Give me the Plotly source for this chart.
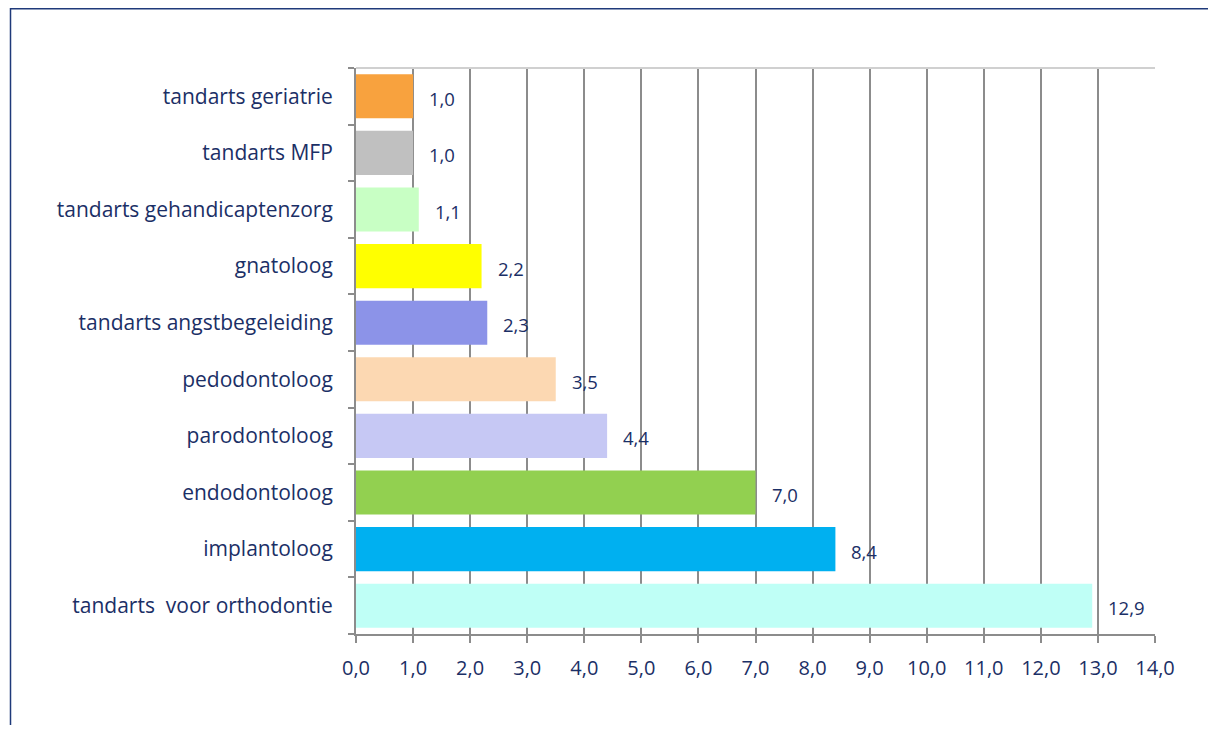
import plotly.graph_objects as go

categories = [
    "tandarts  voor orthodontie",
    "implantoloog",
    "endodontoloog",
    "parodontoloog",
    "pedodontoloog",
    "tandarts angstbegeleiding",
    "gnatoloog",
    "tandarts gehandicaptenzorg",
    "tandarts MFP",
    "tandarts geriatrie",
]
values = [12.9, 8.4, 7.0, 4.4, 3.5, 2.3, 2.2, 1.1, 1.0, 1.0]
colors = ["#BFFFF6", "#00B0F0", "#92D050", "#C6C8F4", "#FCD8B2",
          "#8C93E8", "#FFFF00", "#C8FFC4", "#C0C0C0", "#F8A23E"]
x_ticks = list(range(0, 15))
x_tick_labels = [f"{v},0" for v in x_ticks]

NAVY = "#1B2F66"
FONT = "Open Sans"

def fmt(v):
    return f"{v:.1f}".replace(".", ",")

# page body has an 8px margin; figure sized to fit the 1216x733 window
W, H = 1200, 717
L, T = 348, 60
PW, PH = 799, 566
R, B = W - L - PW, H - T - PH

fig = go.Figure(go.Bar(
    y=categories, x=values, orientation="h",
    marker=dict(color=colors, line=dict(width=0)),
    width=0.78,
    hoverinfo="skip",
))

for c, v in zip(categories, values):
    fig.add_annotation(x=v, y=c, text=fmt(v), showarrow=False,
                       xanchor="left", xshift=14, yshift=-2,
                       font=dict(family=FONT, size=18.5, color=NAVY))

def px(xpix):
    return (xpix - L) / PW

def py(ypix):
    return (T + PH - ypix) / PH

fig.update_layout(
    width=W, height=H,
    margin=dict(l=L, r=R, t=T, b=B),
    plot_bgcolor="white", paper_bgcolor="white",
    showlegend=False,
    font=dict(family=FONT, color=NAVY),
    xaxis=dict(range=[0, 14], tickvals=x_ticks, ticktext=x_tick_labels,
               showgrid=True, gridcolor="#8C8C8C", gridwidth=2,
               showline=True, linecolor="#8C8C8C", linewidth=2,
               ticks="outside", ticklen=7, tickwidth=2, tickcolor="#8C8C8C",
               tickfont=dict(family=FONT, size=20, color=NAVY),
               ticklabelstandoff=8, zeroline=False, fixedrange=True),
    yaxis=dict(showgrid=False, showline=True, linecolor="#8C8C8C", linewidth=2,
               ticks="outside", ticklen=6, tickwidth=2, tickcolor="#8C8C8C",
               tickson="boundaries",
               tickfont=dict(family=FONT, size=21, color=NAVY),
               ticklabelstandoff=17, fixedrange=True),
    shapes=[
        dict(type="line", xref="paper", yref="paper", x0=0, x1=1, y0=1, y1=1,
             line=dict(color="#D0D0D0", width=2)),
        dict(type="line", xref="paper", yref="paper",
             x0=px(2), x1=px(W), y0=py(0.8), y1=py(0.8),
             line=dict(color="#1F3A7A", width=1.5)),
        dict(type="line", xref="paper", yref="paper",
             x0=px(2.5), x1=px(2.5), y0=py(-8), y1=py(H),
             line=dict(color="#1F3A7A", width=1.5)),
    ],
)

fig.write_html("out.html")
